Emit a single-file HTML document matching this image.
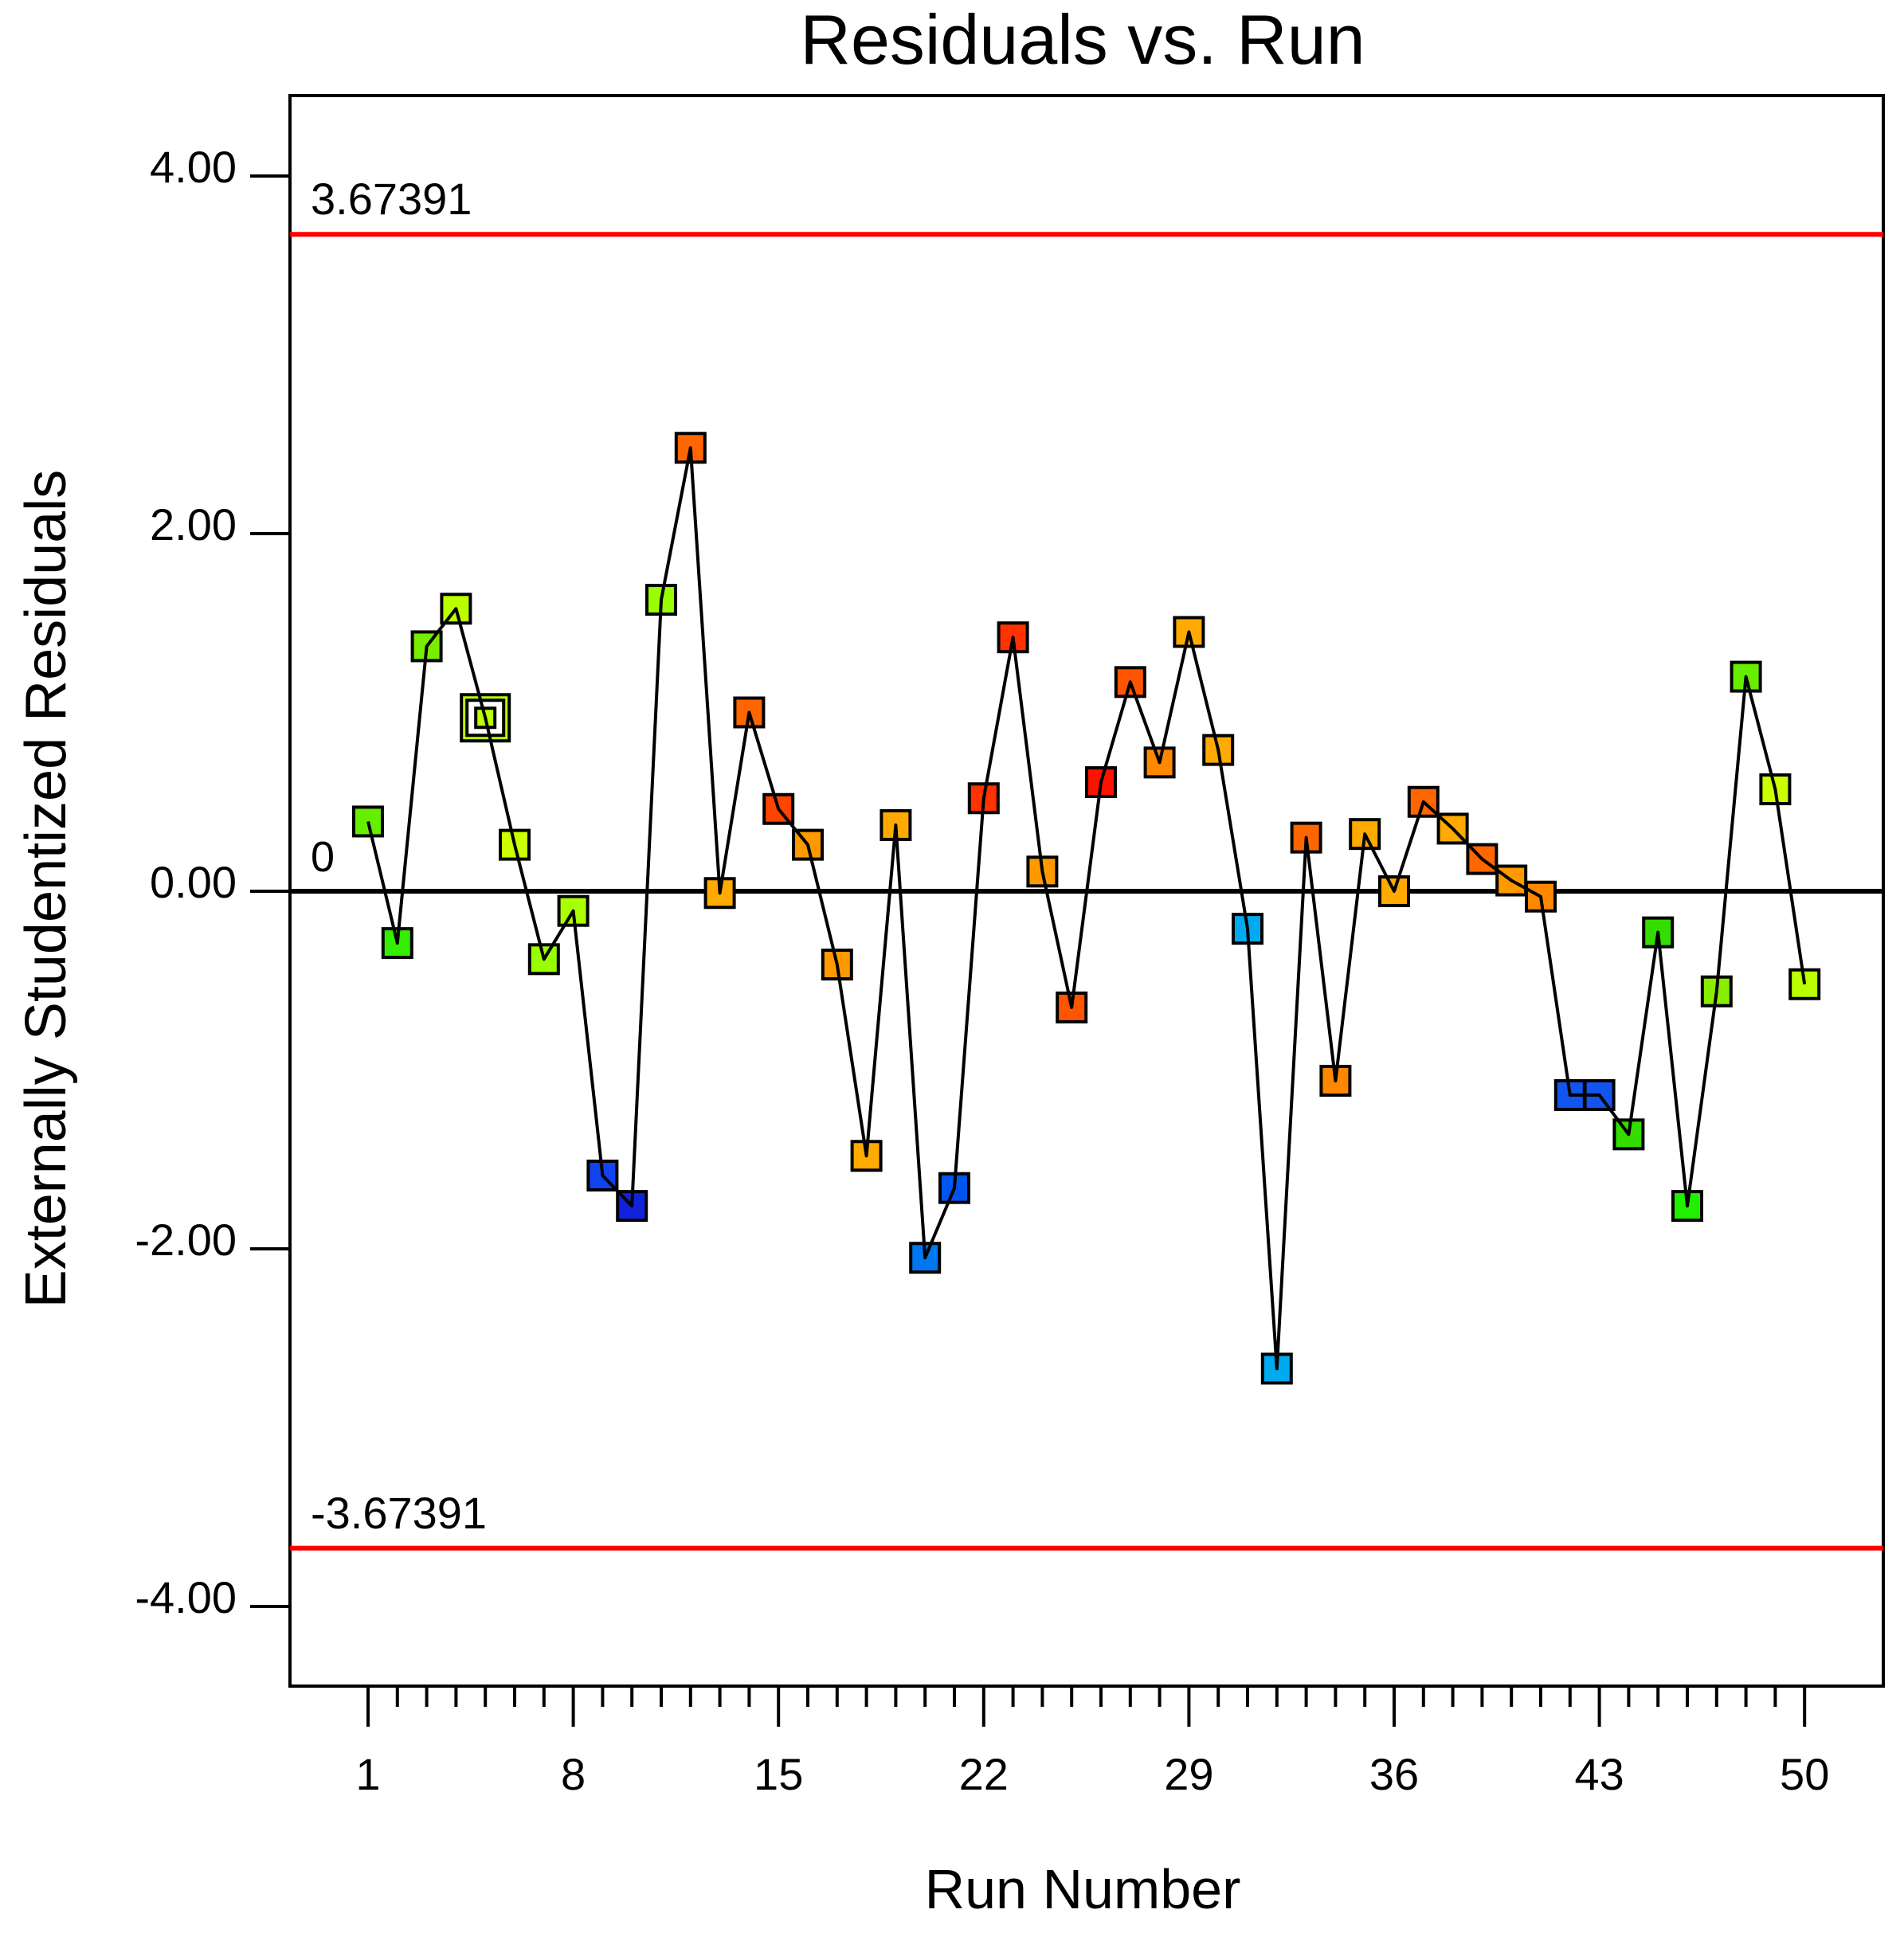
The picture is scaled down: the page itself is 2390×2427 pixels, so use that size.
<!DOCTYPE html>
<html><head><meta charset="utf-8"><style>
html,body{margin:0;padding:0;background:#fff;}
svg{display:block;font-family:"Liberation Sans",sans-serif;}
</style></head><body>
<svg id="chart" width="2390" height="2427" viewBox="0 0 2390 2427" xmlns="http://www.w3.org/2000/svg">
<text x="1359" y="80" font-size="88" text-anchor="middle">Residuals vs. Run</text>
<text x="1359" y="2396" font-size="70" text-anchor="middle">Run Number</text>
<text transform="translate(82,1116) rotate(-90)" font-size="72" text-anchor="middle">Externally Studentized Residuals</text>
<rect x="364" y="120" width="2000" height="1997" fill="none" stroke="#000" stroke-width="4"/>
<g id="yaxis"></g>
<g id="xaxis"></g>
<g id="refs"></g>
<g id="series"></g>
</svg>
<script>
const runs = [];
for (let i = 1; i <= 50; i++) runs.push(i);
const residuals = [0.39,-0.29,1.37,1.58,0.97,0.26,-0.38,-0.11,-1.59,-1.76,1.63,2.48,-0.01,1.00,0.46,0.26,-0.41,-1.48,0.37,-2.05,-1.66,0.52,1.42,0.11,-0.65,0.61,1.17,0.72,1.45,0.79,-0.21,-2.67,0.30,-1.06,0.32,0.00,0.50,0.35,0.18,0.06,-0.03,-1.14,-1.14,-1.36,-0.23,-1.76,-0.56,1.20,0.57,-0.52];
const colors = ["#66ee00","#33ee00","#77ee00","#bbff00","#bbff00","#ccff00","#99ff00","#aaff00","#1144ee","#1122dd","#99ff00","#ff6600","#ffaa00","#ff6600","#ff4400","#ff9900","#ff9900","#ffaa00","#ffaa00","#0077ee","#0055ee","#ff3300","#ff3300","#ff9900","#ff5500","#ff1100","#ff5500","#ff8800","#ffaa00","#ffaa00","#00aaee","#00aaee","#ff6600","#ff8800","#ffaa00","#ffaa00","#ff6600","#ffaa00","#ff6600","#ff9900","#ff8800","#1155ee","#1155ee","#33dd00","#33dd00","#22ee00","#88ee00","#66ee00","#ccff00","#bbff00"];
const yTicks = [4,2,0,-2,-4];
const yTickLabels = ["4.00","2.00","0.00","-2.00","-4.00"];
const xTicks = [1,8,15,22,29,36,43,50];
const limits = [3.67391,-3.67391];
const limitLabels = ["3.67391","-3.67391"];
const highlightRun = 5;

const NS = "http://www.w3.org/2000/svg";
const X = r => 462 + (r - 1) * 36.8;
const Y = v => 1119 - v * 224.5;
function mk(tag, attrs, parent, text) {
  const e = document.createElementNS(NS, tag);
  for (const k in attrs) e.setAttribute(k, attrs[k]);
  if (text !== undefined) e.textContent = text;
  parent.appendChild(e);
  return e;
}
const ya = document.getElementById('yaxis');
yTicks.forEach((t, i) => {
  const l = mk('line', {x1:314, x2:364, y1:Y(t), y2:Y(t), stroke:'#000', 'stroke-width':4}, ya);
  
  
  const tx = mk('text', {x:297, y:Y(t)+8, 'font-size':56, 'text-anchor':'end'}, ya, yTickLabels[i]);
  
  
});
const xa = document.getElementById('xaxis');
runs.forEach(r => {
  const major = xTicks.includes(r);
  const l = mk('line', {x1:X(r), x2:X(r), y1:2117, y2: major ? 2168 : 2143, stroke:'#000', 'stroke-width':4}, xa);
  
  
  if (major) {
    const tx = mk('text', {x:X(r), y:2247, 'font-size':56, 'text-anchor':'middle'}, xa, String(r));
    
    
  }
});
const rf = document.getElementById('refs');
const zl = mk('line', {x1:364, x2:2364, y1:Y(0), y2:Y(0), stroke:'#000', 'stroke-width':6}, rf);


const zt = mk('text', {x:390, y:Y(0)-25, 'font-size':54}, rf, "0");


limits.forEach((v, i) => {
  const l = mk('line', {x1:364, x2:2364, y1:Y(v), y2:Y(v), stroke:'#ff0000', 'stroke-width':6}, rf);
  
  
  const tx = mk('text', {x:390, y:Y(v)-25, 'font-size':56}, rf, limitLabels[i]);
  
  
});
const sg = document.getElementById('series');
const pts = runs.map((r, i) => X(r) + ',' + Y(residuals[i])).join(' ');
const pl = mk('polyline', {points: pts, fill:'none', stroke:'#000', 'stroke-width':4, 'stroke-linejoin':'round'}, sg);


runs.forEach((r, i) => {
  const cx = X(r), cy = Y(residuals[i]);
  if (r === highlightRun) {
    const o = mk('rect', {x:cx-30, y:cy-29, width:60, height:58, fill:colors[i], stroke:'#000', 'stroke-width':4}, sg);
    
    
    mk('rect', {x:cx-23, y:cy-22, width:46, height:44, fill:'#fff', stroke:'#000', 'stroke-width':4}, sg);
    const m = mk('rect', {x:cx-12, y:cy-12, width:24, height:24, fill:colors[i], stroke:'#000', 'stroke-width':4}, sg);
    
    
  } else {
    const m = mk('rect', {x:cx-18, y:cy-18, width:36, height:36, fill:colors[i], stroke:'#000', 'stroke-width':4}, sg);
    
    
  }
});
sg.appendChild(pl);
</script>
</body></html>
